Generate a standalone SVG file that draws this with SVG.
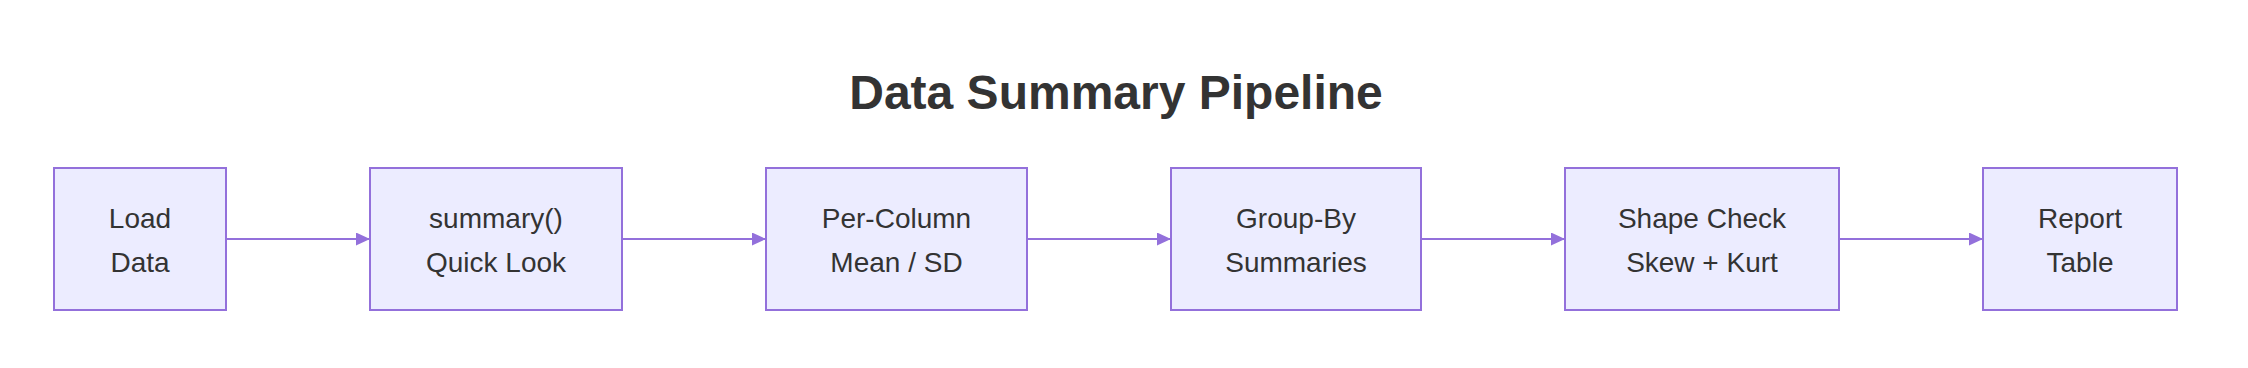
<svg xmlns="http://www.w3.org/2000/svg" width="2248" height="368" viewBox="0 0 2248 368">
<style>
.node rect{fill:#ECECFF;stroke:#9370DB;stroke-width:2}
.node text{font-family:"Liberation Sans",Arial,sans-serif;font-size:28px;fill:#333;text-anchor:middle}
.edge{stroke:#9370DB;stroke-width:2;fill:none}
.title{font-family:"Liberation Sans",Arial,sans-serif;font-size:48px;font-weight:bold;fill:#333;text-anchor:middle}
</style>
<defs>
<marker id="arr" viewBox="0 0 14 13" refX="14" refY="6.5" markerWidth="14" markerHeight="13" markerUnits="userSpaceOnUse" orient="auto">
<path d="M0,0 L14,6.5 L0,13 Z" fill="#9370DB"/>
</marker>
</defs>
<rect width="2248" height="368" fill="#fff"/>
<text class="title" x="1116" y="109">Data Summary Pipeline</text>
<g id="connectors">
<line class="edge" x1="226" y1="239" x2="370" y2="239" marker-end="url(#arr)"/>
<line class="edge" x1="622" y1="239" x2="766" y2="239" marker-end="url(#arr)"/>
<line class="edge" x1="1027" y1="239" x2="1171" y2="239" marker-end="url(#arr)"/>
<line class="edge" x1="1421" y1="239" x2="1565" y2="239" marker-end="url(#arr)"/>
<line class="edge" x1="1839" y1="239" x2="1983" y2="239" marker-end="url(#arr)"/>
</g>
<g id="n1" class="node"><rect x="54" y="168" width="172" height="142"/><text x="140" y="228">Load</text><text x="140" y="272">Data</text></g>
<g id="n2" class="node"><rect x="370" y="168" width="252" height="142"/><text x="496" y="228">summary()</text><text x="496" y="272">Quick Look</text></g>
<g id="n3" class="node"><rect x="766" y="168" width="261" height="142"/><text x="896.5" y="228">Per-Column</text><text x="896.5" y="272">Mean / SD</text></g>
<g id="n4" class="node"><rect x="1171" y="168" width="250" height="142"/><text x="1296" y="228">Group-By</text><text x="1296" y="272">Summaries</text></g>
<g id="n5" class="node"><rect x="1565" y="168" width="274" height="142"/><text x="1702" y="228">Shape Check</text><text x="1702" y="272">Skew + Kurt</text></g>
<g id="n6" class="node"><rect x="1983" y="168" width="194" height="142"/><text x="2080" y="228">Report</text><text x="2080" y="272">Table</text></g>
</svg>
